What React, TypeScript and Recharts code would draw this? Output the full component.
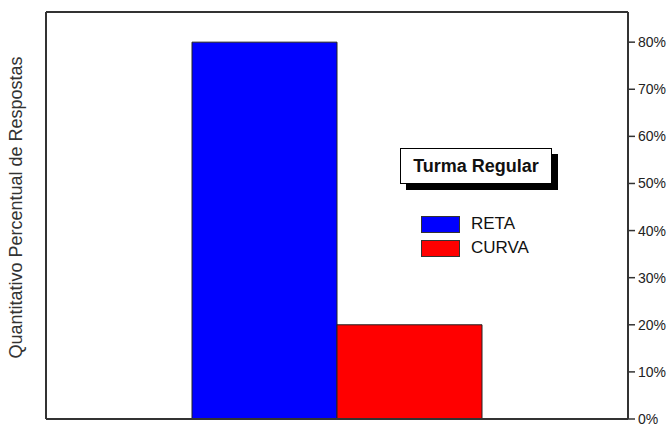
import { BarChart, Bar, XAxis, YAxis, Legend } from "recharts";

// categoria única, duas séries
const categories = ["Turma Regular"];
const seriesNames = ["RETA", "CURVA"];
const retaValues = [80];
const curvaValues = [20];
const yTicks = [0, 10, 20, 30, 40, 50, 60, 70, 80];

const data = categories.map((name, i) => ({
  name,
  reta: retaValues[i],
  curva: curvaValues[i],
}));

const font = "Arial, 'Liberation Sans', sans-serif";
const frame = { stroke: "#333", strokeWidth: 2 };

const LegendBox = ({ payload }: any) => {
  const items = [...(payload || [])].sort(
    (a: any, b: any) => seriesNames.indexOf(a.value) - seriesNames.indexOf(b.value)
  );
  return (
    <div style={{ fontFamily: font, position: "relative", width: 170, height: 110 }}>
      <div
        style={{
          position: "absolute",
          left: 0,
          top: 0,
          width: 150,
          height: 34,
          border: "1px solid #000",
          background: "#fff",
          boxShadow: "6px 6px 0 #000",
          fontWeight: "bold",
          fontSize: 18,
          lineHeight: "34px",
          textAlign: "center",
          color: "#111",
        }}
      >
        Turma Regular
      </div>
      {items.map((p: any, i: number) => (
        <div
          key={p.value}
          style={{ position: "absolute", left: 21, top: 66 + i * 24, display: "flex", alignItems: "center" }}
        >
          <span
            style={{
              display: "inline-block",
              width: 37,
              height: 15,
              background: p.color,
              border: "1px solid #333",
            }}
          />
          <span style={{ marginLeft: 11, fontSize: 17, color: "#111" }}>{p.value}</span>
        </div>
      ))}
    </div>
  );
};

const YLabel = (props: any) => {
  const { viewBox } = props;
  const x = viewBox.x + 16;
  const y = viewBox.y + viewBox.height / 2 - 8;
  return (
    <text
      x={x}
      y={y}
      transform={`rotate(-90, ${x}, ${y})`}
      textAnchor="middle"
      dominantBaseline="central"
      fontSize={18}
      fill="#333"
      fontFamily={font}
    >
      Quantitativo Percentual de Respostas
    </text>
  );
};

export default function App() {
  return (
    <div style={{ position: "absolute", left: 0, top: 0 }}>
      <BarChart
        width={668}
        height={427}
        data={data}
        margin={{ top: 11, right: 0, bottom: 0, left: 0 }}
        barGap={0}
        barSize={145}
      >
        <XAxis dataKey="name" height={8} tick={false} tickLine={false} axisLine={frame} />
        <XAxis xAxisId="top" dataKey="name" orientation="top" height={1} tick={false} tickLine={false} axisLine={frame} />
        <YAxis
          yAxisId="left"
          orientation="left"
          width={46}
          tick={false}
          tickLine={false}
          axisLine={frame}
          domain={[0, 86.4]}
          label={<YLabel />}
        />
        <YAxis
          orientation="right"
          width={40}
          domain={[0, 86.4]}
          ticks={yTicks}
          interval={0}
          tickFormatter={(v: number) => `${v}%`}
          axisLine={frame}
          tickLine={{ stroke: "#333", strokeWidth: 1.5 }}
          tickSize={7}
          tickMargin={3}
          tick={{ fontSize: 14, fill: "#222", fontFamily: font }}
        />
        <Legend
          layout="vertical"
          align="center"
          verticalAlign="middle"
          content={<LegendBox />}
          wrapperStyle={{ left: 400, top: 148, width: 170 }}
        />
        <Bar dataKey="reta" name="RETA" fill="#0000FF" stroke="#222" strokeWidth={1} isAnimationActive={false} />
        <Bar dataKey="curva" name="CURVA" fill="#FF0000" stroke="#222" strokeWidth={1} isAnimationActive={false} />
      </BarChart>
    </div>
  );
}
